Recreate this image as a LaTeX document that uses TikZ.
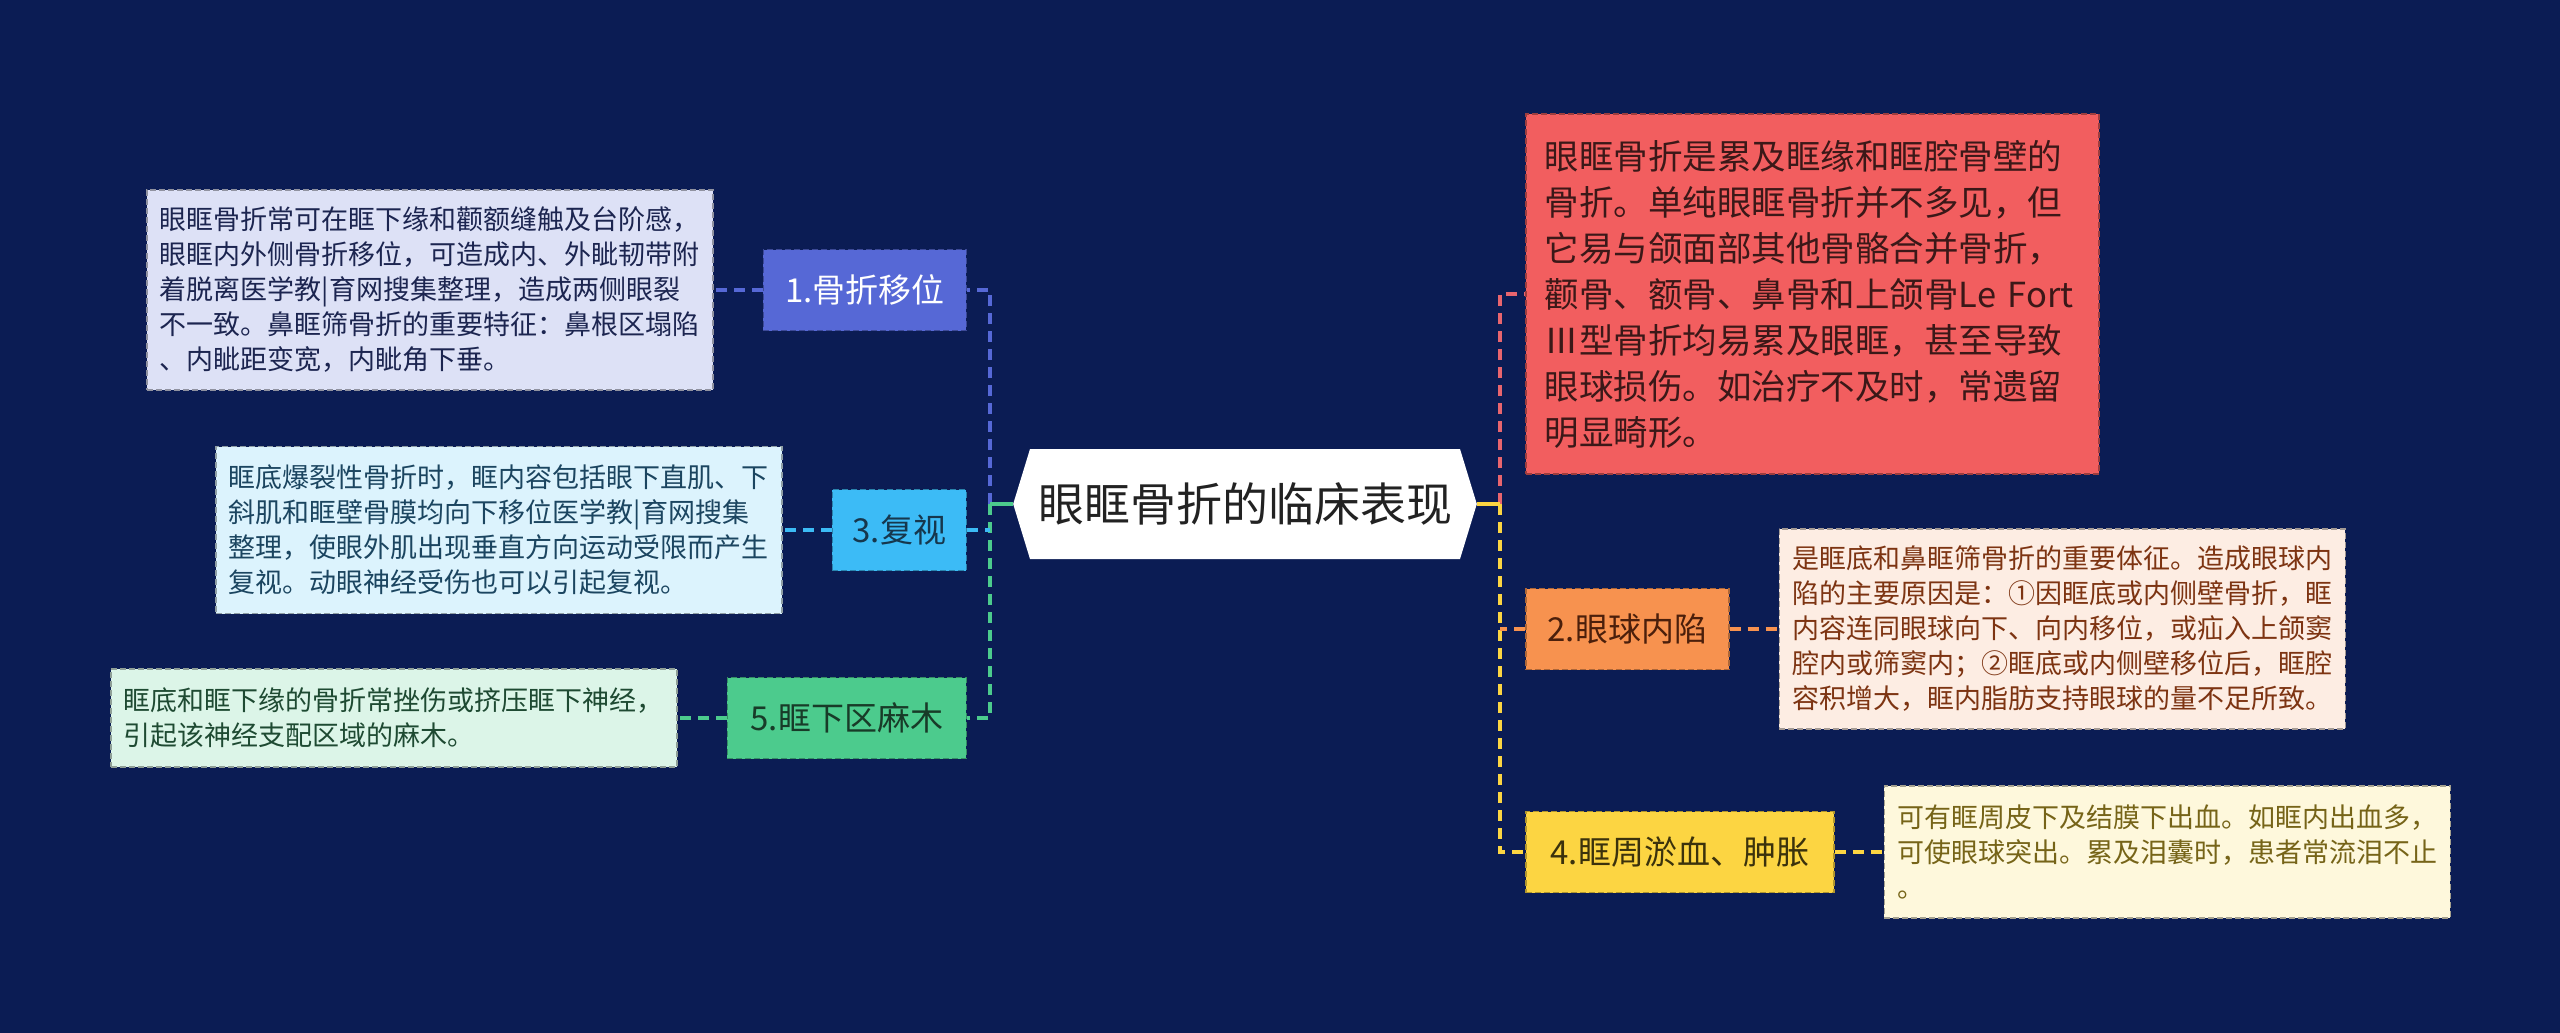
\documentclass[tikz,border=0pt]{standalone}
\usepackage{fontspec}
\setmainfont{Noto Sans CJK SC}
\usepackage{xcolor}
\usetikzlibrary{positioning,shapes.symbols}
\definecolor{navy}{HTML}{0B1C54}
\definecolor{ink}{HTML}{222222}
\definecolor{cYW}{HTML}{5668D6}
\definecolor{nYW}{HTML}{DDE1F6}
\definecolor{tYW}{HTML}{1C2550}
\definecolor{cFS}{HTML}{3CBBF6}
\definecolor{nFS}{HTML}{DCF3FD}
\definecolor{tFS}{HTML}{1B4560}
\definecolor{cMM}{HTML}{4CCB8D}
\definecolor{nMM}{HTML}{DCF5E8}
\definecolor{tMM}{HTML}{1E4A32}
\definecolor{cDY}{HTML}{F25E5F}
\definecolor{tDY}{HTML}{3B1818}
\definecolor{lDY}{HTML}{E8656E}
\definecolor{cNX}{HTML}{F7924F}
\definecolor{nNX}{HTML}{FDEDE3}
\definecolor{tNX}{HTML}{7D3412}
\definecolor{cYX}{HTML}{FCD542}
\definecolor{nYX}{HTML}{FEF8DC}
\definecolor{tYX}{HTML}{766418}

\begin{document}
\begin{tikzpicture}[x=1pt, y=-1pt,
  font=\fontsize{27pt}{35pt}\selectfont,
  topic/.style={signal, signal to=west and east, signal pointer angle=146, fill=white, text=ink,
    minimum width=461pt, minimum height=110pt, inner xsep=8pt, font=\fontsize{46pt}{55pt}\selectfont},
  branch/.style={fill=#1, draw=#1!70!black, dash pattern=on 6pt off 3pt, line width=1.5pt,
    inner xsep=12pt, minimum height=81pt, font=\fontsize{33pt}{40pt}\selectfont},
  note/.style={fill=#1, draw=#1!65!black, dash pattern=on 6pt off 3pt, line width=1.5pt,
    text width=540pt, align=left, inner xsep=13pt},
  link/.style={draw=#1, line width=3.5pt, dash pattern=on 11pt off 7pt}]
  % background
  \fill[navy] (0,0) rectangle (2560,1033);
  % root
  \node[topic] (root) at (1245,504) {眼眶骨折的临床表现};
  % left side
  \node[branch=cYW, text=white, minimum width=203pt, anchor=east] (yw) at (967,290) {1.骨折移位};
  \node[branch=cFS, text=tFS!80!black, minimum width=134pt, anchor=east] (fs) at (967,530) {3.复视};
  \node[branch=cMM, text=tMM!80!black, minimum width=239pt, anchor=east] (mm) at (967,718) {5.眶下区麻木};
  \node[note=nYW, text=tYW, minimum height=200pt, left=49pt of yw] (yw_n) {眼眶骨折常可在眶下缘和颧额缝触及台阶感，\\眼眶内外侧骨折移位，可造成内、外眦韧带附\\着脱离医学教|育网搜集整理，造成两侧眼裂\\不一致。鼻眶筛骨折的重要特征：鼻根区塌陷\\、内眦距变宽，内眦角下垂。};
  \node[note=nFS, text=tFS, minimum height=167pt, left=49pt of fs] (fs_n) {眶底爆裂性骨折时，眶内容包括眼下直肌、下\\斜肌和眶壁骨膜均向下移位医学教|育网搜集\\整理，使眼外肌出现垂直方向运动受限而产生\\复视。动眼神经受伤也可以引起复视。};
  \node[note=nMM, text=tMM, minimum height=98pt, left=49pt of mm] (mm_n) {眶底和眶下缘的骨折常挫伤或挤压眶下神经，\\引起该神经支配区域的麻木。};
  % right side
  \node[note=cDY, text=tDY, text width=535pt, inner xsep=19pt, minimum height=360pt, anchor=west,
    font=\fontsize{34.5pt}{46pt}\selectfont] (dy) at (1525,294) {眼眶骨折是累及眶缘和眶腔骨壁的\\骨折。单纯眼眶骨折并不多见，但\\它易与颌面部其他骨骼合并骨折，\\颧骨、额骨、鼻骨和上颌骨Le Fort\\Ⅲ型骨折均易累及眼眶，甚至导致\\眼球损伤。如治疗不及时，常遗留\\明显畸形。};
  \node[branch=cNX, text=tNX!60!black, minimum width=203pt, anchor=west] (nx) at (1525,629) {2.眼球内陷};
  \node[branch=cYX, text=tYX!50!black, minimum width=308pt, anchor=west] (yx) at (1525,852) {4.眶周淤血、肿胀};
  \node[note=nNX, text=tNX, minimum height=200pt, right=49pt of nx] (nx_n) {是眶底和鼻眶筛骨折的重要体征。造成眼球内\\陷的主要原因是：①因眶底或内侧壁骨折，眶\\内容连同眼球向下、向内移位，或疝入上颌窦\\腔内或筛窦内；②眶底或内侧壁移位后，眶腔\\容积增大，眶内脂肪支持眼球的量不足所致。};
  \node[note=nYX, text=tYX, minimum height=132pt, right=49pt of yx] (yx_n) {可有眶周皮下及结膜下出血。如眶内出血多，\\可使眼球突出。累及泪囊时，患者常流泪不止\\。};
  % links
  \coordinate (jl) at (990,504);
  \coordinate (jr) at (1500,504);
  \draw[link=cYW] (jl) |- (yw.east);
  \draw[link=cMM] (jl) |- (mm.east);
  \draw[link=cFS] (fs.east) -- (fs.east -| jl);
  \draw[link=cMM, solid] (root.west) -- (jl);
  \draw[link=cYW] (yw.west) -- (yw_n.east);
  \draw[link=cFS] (fs.west) -- (fs_n.east);
  \draw[link=cMM] (mm.west) -- (mm_n.east);
  \draw[link=lDY] (jr) |- (dy.west);
  \draw[link=cYX] (jr) |- (yx.west);
  \draw[link=cNX] (nx.west) -- (nx.west -| jr);
  \draw[link=cYX, solid] (root.east) -- (jr);
  \draw[link=cNX] (nx.east) -- (nx_n.west);
  \draw[link=cYX] (yx.east) -- (yx_n.west);
\end{tikzpicture}
\end{document}
